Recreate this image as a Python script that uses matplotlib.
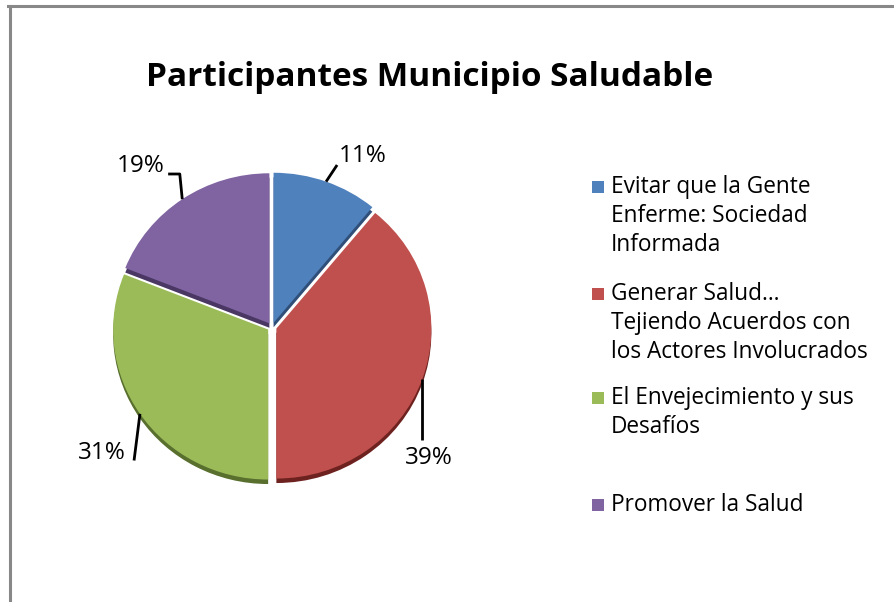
import matplotlib
matplotlib.use('Agg')
import matplotlib.pyplot as plt
from matplotlib.patches import Rectangle
from matplotlib.lines import Line2D
import numpy as np

# Data
categories = ['Evitar que la Gente\nEnferme: Sociedad\nInformada',
              'Generar Salud…\nTejiendo Acuerdos con\nlos Actores Involucrados',
              'El Envejecimiento y sus\nDesafíos',
              'Promover la Salud']
shares = [11, 39, 31, 19]
pct_labels = ['11%', '39%', '31%', '19%']
colors = ['#4F81BD', '#C0504D', '#9BBB59', '#8064A2']
dark_colors = ['#2F4F78', '#6E2220', '#586F2E', '#4A3763']

W, H = 894, 602
plt.rcParams['font.family'] = ['Open Sans', 'DejaVu Sans']
fig = plt.figure(figsize=(W / 100, H / 100), dpi=100)

# pie axes placed in pixels: centre (272, 327 from top); slightly flattened like a tilted 3D pie
RX, RY = 155, 150
cx, cy = 272, H - 327
hx, hy = 1.6 * RX, 1.6 * RY
ax = fig.add_axes([(cx - hx) / W, (cy - hy) / H, 2 * hx / W, 2 * hy / H])

explode = [0.03] * len(shares)
# shadow / depth layer
ax.pie(shares, colors=dark_colors, startangle=90, counterclock=False,
       explode=explode, radius=1.0, center=(0, -0.03),
       wedgeprops=dict(linewidth=0))
wedges, _ = ax.pie(shares, colors=colors, startangle=90, counterclock=False,
                   explode=explode, radius=1.0, center=(0, 0),
                   wedgeprops=dict(linewidth=0))
ax.set_aspect('auto')
ax.set_xlim(-1.6, 1.6)
ax.set_ylim(-1.6, 1.6)
ax.axis('off')

# percentage labels with leader lines
# text anchor (data units from pie centre) and alignment
label_pos = [((0.43, 1.14), 'left'), ((0.86, -0.87), 'left'),
             ((-0.94, -0.84), 'right'), ((-0.69, 1.07), 'right')]
line_end = [(0.42, 1.08), (None, -0.75), (-0.89, -0.89), (-0.67, 1.02)]
for w, lab, (tp, ha), le in zip(wedges, pct_labels, label_pos, line_end):
    ang = np.deg2rad((w.theta1 + w.theta2) / 2)
    x0, y0 = 1.03 * np.cos(ang), 1.03 * np.sin(ang)
    if lab == '19%':
        xs, ys = [x0, le[0] + 0.075, le[0]], [y0, le[1], le[1]]
    elif lab == '39%':
        xs, ys = [x0, x0], [y0, le[1]]
    else:
        xs, ys = [x0, le[0]], [y0, le[1]]
    ax.plot(xs, ys, color='black', lw=2, solid_capstyle='butt')
    ax.text(tp[0], tp[1], lab, ha=ha, va='center', fontsize=17.5, color='black')

# title
fig.text(430 / W, 1 - 78 / H, 'Participantes Municipio Saludable',
         ha='center', va='center', fontsize=24, fontweight='bold')

# legend drawn manually
leg_y = [187, 294, 398, 505]
for cat, col, y in zip(categories, colors, leg_y):
    fig.patches.append(Rectangle((592 / W, 1 - (y + 6) / H), 12 / W, 12 / H,
                                 transform=fig.transFigure, facecolor=col,
                                 edgecolor='none'))
    for i, line in enumerate(cat.split('\n')):
        fig.text(611 / W, 1 - (y + 29 * i) / H, line, ha='left', va='center',
                 fontsize=16.3, color='black')

# outer frame (left and top edges visible)
fig.lines.append(Line2D([9.5 / W, 9.5 / W], [0, 1 - 5.5 / H], transform=fig.transFigure,
                        color='#888888', lw=2.2))
fig.lines.append(Line2D([8 / W, 1], [1 - 5.5 / H, 1 - 5.5 / H], transform=fig.transFigure,
                        color='#888888', lw=2.2))

fig.savefig('out.png', dpi=100)
